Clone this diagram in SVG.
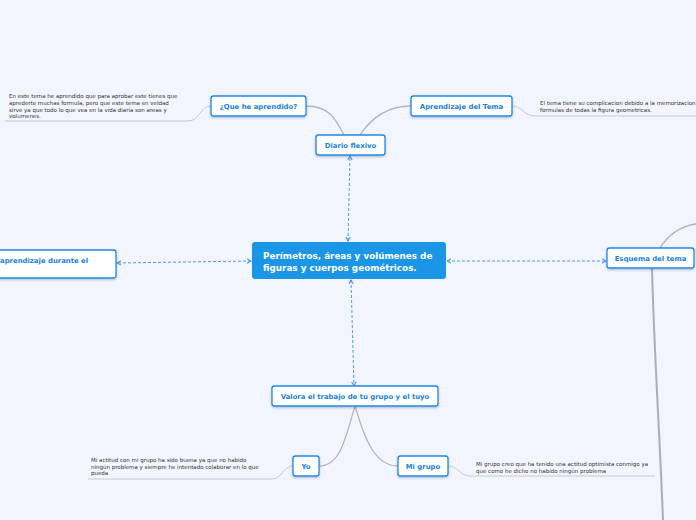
<svg xmlns="http://www.w3.org/2000/svg" width="696" height="520" viewBox="0 0 696 520">
<defs>
<style>
.node rect{fill:#fff;stroke:#1f8ae8;stroke-width:1.3;filter:url(#sh)}
.node text{font-family:"DejaVu Sans",Verdana,sans-serif;font-weight:bold;font-size:6.9px;fill:#1a7fdc;text-anchor:middle}
.note{font-family:"DejaVu Sans",Verdana,sans-serif;font-size:5.5px;fill:#333}
.br{fill:none;stroke:#b5b5b8;stroke-width:1.3}
.ul{fill:none;stroke:#c8cad2;stroke-width:1}
.rel{fill:none;stroke:#3d8fe6;stroke-width:0.9;stroke-dasharray:3 2;marker-start:url(#ar);marker-end:url(#ar)}
</style>
<filter id="sh" x="-10%" y="-20%" width="120%" height="160%"><feDropShadow dx="0" dy="1.2" stdDeviation="0.8" flood-color="#000" flood-opacity="0.25"/></filter>
<marker id="ar" viewBox="0 0 6 6" refX="5" refY="3" markerWidth="6" markerHeight="6" orient="auto-start-reverse" markerUnits="userSpaceOnUse"><path d="M1,0.8 L5,3 L1,5.2" fill="none" stroke="#3d8fe6" stroke-width="1"/></marker>
</defs>
<rect width="696" height="520" fill="#f2f5fe"/>
<g id="connectors">
<path class="br" d="M306,106 C330,106 336,120 344,135"/>
<path class="br" d="M360,135 C370,120 385,106 411,106"/>
<path class="br" d="M355,406 C345,440 340,466 319,466"/>
<path class="br" d="M355,406 C365,440 375,466 398,466"/>
<path class="br" d="M660,248 C670,232 682,226 696,224"/>
<path fill="none" stroke="#aeaeb2" stroke-width="2" d="M652,268 C654,350 660,440 663,520"/>
<path class="ul" d="M211,106 C200,106 200,121 188,121 L5,121"/>
<path class="ul" d="M512,106 C522,106 524,116 535,116 L696,116"/>
<path class="ul" d="M293,466 C283,466 282,479 272,479 L88,479"/>
<path class="ul" d="M448,466 C458,466 460,476 470,476 L655,476"/>
<path class="rel" d="M348,241 L350,156"/>
<path class="rel" d="M251,261 L117,263"/>
<path class="rel" d="M447,261 L606,261"/>
<path class="rel" d="M351,280 L354,386"/>
</g>
<g id="central">
<rect x="252" y="242" width="194" height="37" rx="3" fill="#1b96e6"/>
<text x="263" y="259" font-family="'DejaVu Sans',Verdana,sans-serif" font-weight="bold" font-size="8.8" fill="#fff">Perímetros, áreas y volúmenes de</text>
<text x="263" y="271" font-family="'DejaVu Sans',Verdana,sans-serif" font-weight="bold" font-size="8.8" fill="#fff">figuras y cuerpos geométricos.</text>
</g>
<g id="diario" class="node"><rect x="316" y="135" width="69" height="20" rx="2.5"/><text x="350.5" y="148">Diario flexivo</text></g>
<g id="que" class="node"><rect x="211" y="96" width="95" height="20" rx="2.5"/><text x="258.5" y="109">¿Que he aprendido?</text></g>
<g id="aprend" class="node"><rect x="411" y="96" width="101" height="20" rx="2.5"/><text x="461.5" y="109">Aprendizaje del Tema</text></g>
<g id="izq" class="node"><rect x="-6" y="250" width="122" height="28" rx="2.5"/><text x="0" y="263" style="text-anchor:start">aprendizaje durante el</text></g>
<g id="esquema" class="node"><rect x="607" y="248" width="87" height="20" rx="2.5"/><text x="650.5" y="261">Esquema del tema</text></g>
<g id="valora" class="node"><rect x="272" y="386" width="166" height="20" rx="2.5"/><text x="355" y="399">Valora el trabajo de tu grupo y el tuyo</text></g>
<g id="yo" class="node"><rect x="293" y="456" width="26" height="20" rx="2.5"/><text x="306" y="469">Yo</text></g>
<g id="migrupo" class="node"><rect x="398" y="456" width="50" height="20" rx="2.5"/><text x="423" y="469">Mi grupo</text></g>
<g id="notes">
<text class="note" x="9" y="97.5">En este tema he aprendido que para aprobar este tienes que</text>
<text class="note" x="9" y="104.5">aprederte muchas formula, pero que este tema en veldad</text>
<text class="note" x="9" y="111.5">sirve ya que todo lo que vea en la vida diaria son areas y</text>
<text class="note" x="9" y="118">volumenes.</text>
<text class="note" x="540" y="105">El tema tiene su complicacion debido a la memorizacion</text>
<text class="note" x="540" y="112">formulas de todas la figura geometricas.</text>
<text class="note" x="91" y="462">Mi actitud con mi grupo ha sido buena ya que no habido</text>
<text class="note" x="91" y="468.5">ningún problema y siempre he intentado colaborar en lo que</text>
<text class="note" x="91" y="475">pueda</text>
<text class="note" x="476" y="466">Mi grupo creo que ha tenido una actitud optimista conmigo ya</text>
<text class="note" x="476" y="472.5">que como he dicho no habido ningún problema</text>
</g>
</svg>
